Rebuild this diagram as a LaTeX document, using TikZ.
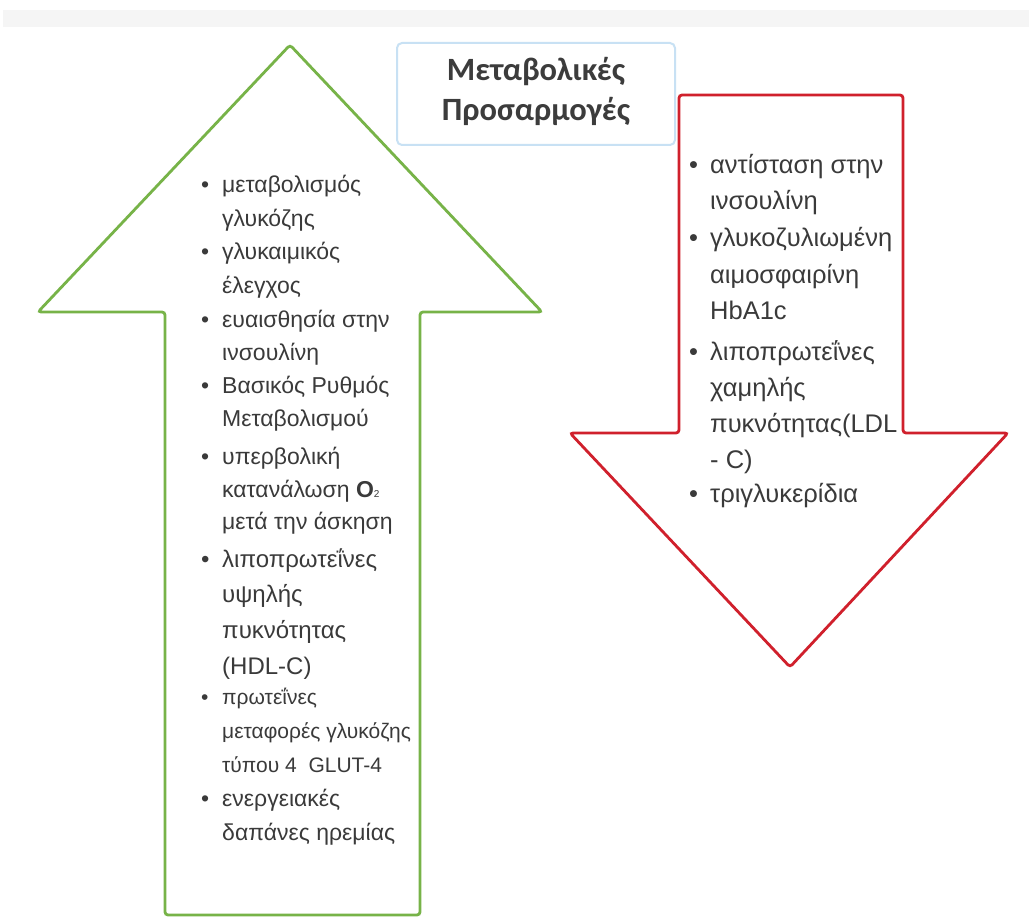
\documentclass[tikz,border=0pt]{standalone}
\usepackage{fontspec}
\setmainfont{Liberation Sans}
\newfontfamily\titlefont{Carlito}
\definecolor{upgreen}{HTML}{77B348}
\definecolor{downred}{HTML}{D0202C}
\definecolor{titleblue}{HTML}{C8E1F4}
\definecolor{ink}{HTML}{3A3A3A}
\definecolor{titleink}{HTML}{3C3C3C}
\definecolor{band}{HTML}{F5F5F5}

% bullet item: #1 font size, #2 line spacing, #3 bullet column width, #4 rows
\newcommand{\bulletitem}[4]{%
  \fontsize{#1}{#2}\selectfont
  \begin{tabular}[t]{@{}p{#3}@{}l@{}}\textbullet & #4\end{tabular}}

\tikzset{
  arrowshape/.style={line width=2.8pt, rounded corners=3pt, fill=white},
  itemtext/.style={anchor=base west, inner sep=0pt, text=ink},
  titlebox/.style={draw=titleblue, line width=2pt, rounded corners=5pt, fill=white,
                   minimum width=278pt, minimum height=102pt, inner sep=0pt},
}

\begin{document}
\begin{tikzpicture}[x=1pt, y=-1pt]
  \useasboundingbox (0,0) rectangle (1029,920);
  \fill[white] (0,0) rectangle (1029,920);

  % faint band along the top
  \fill[band] (3,10) rectangle (1029,27);

  % green arrow pointing up
  \draw[arrowshape, draw=upgreen]
    (290,45) -- (542,312) -- (420,312) -- (420,915) -- (165,915)
    -- (165,312) -- (38,312) -- cycle;

  % red arrow pointing down
  \draw[arrowshape, draw=downred]
    (679,95) -- (903,95) -- (903,433) -- (1008,433) -- (790,667)
    -- (570,433) -- (679,433) -- cycle;

  % title
  \node[titlebox] (title) at (536,94) {};
  \node[anchor=base, inner sep=0pt, text=titleink] (titletext) at (536,81)
    {\titlefont\bfseries\fontsize{32.5}{40}\selectfont
     \begin{tabular}[t]{@{}c@{}}Μεταβολικές\\Προσαρμογές\end{tabular}};

  % increases
  \node[itemtext] (l1) at (201,193) {\bulletitem{23}{33.7}{21pt}{μεταβολισμός\\ & γλυκόζης}};
  \node[itemtext] (l2) at (201,260) {\bulletitem{23}{33.7}{21pt}{γλυκαιμικός\\ & έλεγχος}};
  \node[itemtext] (l3) at (201,327) {\bulletitem{23}{33.7}{21pt}{ευαισθησία στην\\ & ινσουλίνη}};
  \node[itemtext] (l4) at (201,393) {\bulletitem{23}{33.7}{21pt}{Βασικός Ρυθμός\\ & Μεταβολισμού}};
  \node[itemtext] (l5) at (201,464) {\bulletitem{23}{33}{21pt}{υπερβολική\\ & κατανάλωση {\bfseries O}{\fontsize{10}{10}\selectfont 2}\\ & μετά την άσκηση}};
  \node[itemtext] (l6) at (201,567) {\bulletitem{24}{35.7}{21pt}{λιποπρωτεΐνες\\ & υψηλής\\ & πυκνότητας\\ & (HDL-C)}};
  \node[itemtext] (l7) at (201,704) {\bulletitem{21}{34}{21pt}{πρωτεΐνες\\ & μεταφορές γλυκόζης\\ & τύπου 4\ \ GLUT-4}};
  \node[itemtext] (l8) at (201,806) {\bulletitem{23}{34}{21pt}{ενεργειακές\\ & δαπάνες ηρεμίας}};

  % decreases
  \node[itemtext] (r1) at (689,174) {\bulletitem{25.5}{36}{21pt}{αντίσταση στην\\ & ινσουλίνη}};
  \node[itemtext] (r2) at (689,247) {\bulletitem{25.5}{36.5}{21pt}{γλυκοζυλιωμένη\\ & αιμοσφαιρίνη\\ & HbA1c}};
  \node[itemtext] (r3) at (689,360) {\bulletitem{25.5}{36}{21pt}{λιποπρωτεΐνες\\ & χαμηλής\\ & πυκνότητας(LDL\\ & - C)}};
  \node[itemtext] (r4) at (689,502) {\bulletitem{25.5}{36}{21pt}{τριγλυκερίδια}};
\end{tikzpicture}
\end{document}
